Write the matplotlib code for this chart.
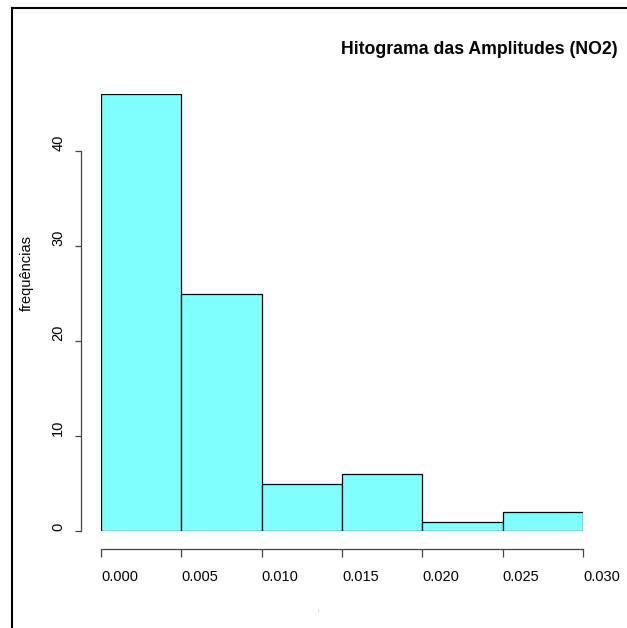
import numpy as np
import matplotlib
matplotlib.use("Agg")
import matplotlib.pyplot as plt
from matplotlib.lines import Line2D

# histogram of amplitudes (NO2)
bin_edges = [0.000, 0.005, 0.010, 0.015, 0.020, 0.025, 0.030]
counts = [46, 25, 5, 6, 1, 2]
y_ticks = [0, 10, 20, 30, 40]
x_ticks = [0.000, 0.005, 0.010, 0.015, 0.020, 0.025, 0.030]
x_tick_labels = ["0.000", "0.005", "0.010", "0.015", "0.020", "0.025", "0.030"]

plt.rcParams["font.family"] = ["Liberation Sans", "DejaVu Sans"]

W, H = 627, 628
fig = plt.figure(figsize=(W / 100, H / 100), dpi=100)
ax = fig.add_axes([101 / W, (H - 531) / H, 482 / W, (531 - 94) / H])

lefts = np.array(bin_edges[:-1])
widths = np.diff(bin_edges)
ax.bar(lefts, counts, width=widths, align="edge", color="#80FFFF",
       edgecolor="black", linewidth=0.9)

ax.set_xlim(0, 0.030)
ax.set_ylim(0, 46)

for side in ["top", "right"]:
    ax.spines[side].set_visible(False)
ax.spines["left"].set_position(("outward", 14.4))
ax.spines["bottom"].set_position(("outward", 13))
ax.spines["left"].set_bounds(0, 40)
ax.spines["bottom"].set_bounds(0, 0.030)
for side in ["left", "bottom"]:
    ax.spines[side].set_color("#444444")
    ax.spines[side].set_linewidth(0.9)

ax.set_yticks(y_ticks)
ax.set_yticklabels([str(v) for v in y_ticks], rotation=90, va="bottom")
ax.set_xticks(x_ticks)
ax.set_xticklabels(x_tick_labels, ha="left")
ax.tick_params(axis="y", length=4.3, width=0.9, color="#444444", pad=7, labelsize=10.5)
ax.tick_params(axis="x", length=5.8, width=0.9, color="#444444", pad=9, labelsize=10.5)

fig.text(618 / W, 1 - 49 / H, "Hitograma das Amplitudes (NO2)", ha="right",
         va="center", fontsize=12.7, fontweight="bold")
fig.text(27 / W, 1 - 273 / H, "frequências", rotation=90, ha="center",
         va="center", fontsize=10.5)
fig.text(318 / W, 1 - 611 / H, "i", ha="center", va="center", fontsize=3,
         color="#888888")

# outer frame (left and top edges)
fig.add_artist(Line2D([12 / W, 12 / W], [0, 1 - 8 / H], transform=fig.transFigure,
                      color="black", linewidth=1.5))
fig.add_artist(Line2D([12 / W, 1], [1 - 8 / H, 1 - 8 / H], transform=fig.transFigure,
                      color="black", linewidth=1.5))

fig.savefig("out.png", dpi=100)
plt.close(fig)
